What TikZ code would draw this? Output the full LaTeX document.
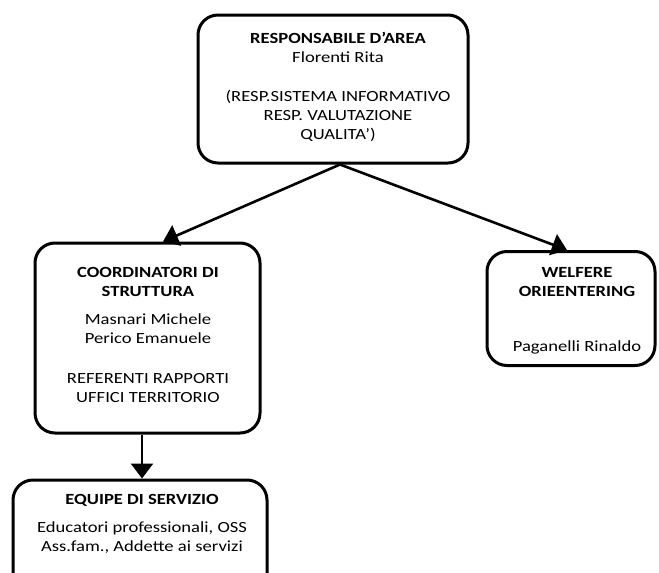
\documentclass[tikz,border=0pt]{standalone}
\usepackage{fontspec}
\setmainfont{Carlito}[FakeStretch=1.2]
\usetikzlibrary{arrows.meta,calc}
\begin{document}
\begin{tikzpicture}[x=1pt,y=-1pt,
  box/.style={draw=black,line width=3pt,rounded corners=20pt,inner sep=0pt,fill=none},
  txt/.style={align=center,inner sep=0pt,anchor=north,font=\fontsize{15.5}{19}\selectfont},
  conn/.style={line width=2.6pt,-{Triangle[length=15pt,width=22pt]}}]
\useasboundingbox (0,0) rectangle (659,573);
\clip (0,0) rectangle (659,573);
\fill[white] (0,0) rectangle (659,573);
% boxes
\node[box,minimum width=270pt,minimum height=148pt] (top) at (333,89) {};
\node[box,minimum width=225pt,minimum height=190pt] (coord) at (147.5,338) {};
\node[box,minimum width=168pt,minimum height=114pt] (welf) at (571,308.5) {};
\node[box,minimum width=254pt,minimum height=130pt] (equipe) at (140,545) {};
% texts
\node[txt] (toptxt) at (338,32) {\textbf{RESPONSABILE D’AREA}\\Florenti Rita\\[20pt](RESP.SISTEMA INFORMATIVO\\RESP. VALUTAZIONE\\QUALITA’)};
\node[txt] (coordtxt) at (148,267) {\textbf{COORDINATORI DI}\\\textbf{STRUTTURA}\\[9pt]Masnari Michele\\Perico Emanuele\\[21pt]REFERENTI RAPPORTI\\UFFICI TERRITORIO};
\node[txt] (welftxt) at (577,267) {\textbf{WELFERE}\\\textbf{ORIEENTERING}\\[36pt]Paganelli Rinaldo};
\node[txt] (equipetxt) at (142,494) {\textbf{EQUIPE DI SERVIZIO}\\[9pt]Educatori professionali, OSS\\Ass.fam., Addette ai servizi};
% connectors
\coordinate (o) at ($(top.south)+(7,0)$);
\coordinate (cin) at ($(coord.north)+(15.5,0)$);
\coordinate (win) at ($(welf.north)+(-4,0)$);
\coordinate (cout) at ($(coord.south)+(-5.5,0)$);
\coordinate (ein) at ($(equipe.north)+(2,0)$);
\draw[conn] (o) -- (cin);
\draw[conn] (o) -- (win);
\draw[conn] (cout) -- (ein);
\end{tikzpicture}
\end{document}
